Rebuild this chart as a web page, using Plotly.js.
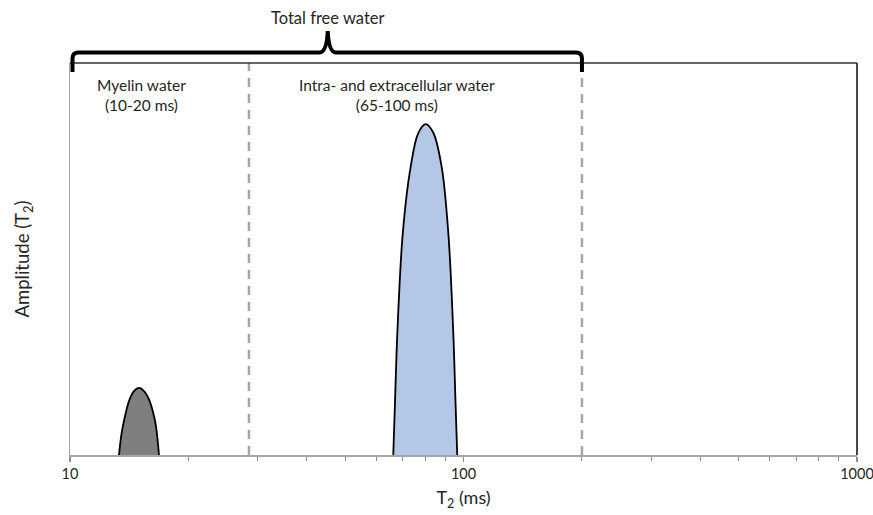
<!DOCTYPE html>
<html>
<head>
<meta charset="utf-8">
<script src="https://cdn.plot.ly/plotly-3.0.1.min.js"></script>
<style>html,body{margin:0;padding:0;background:#fff;}#chart{width:873px;height:515px;}</style>
</head>
<body>
<div id="chart"></div>
<script>
// Myelin water peak (T2 in ms, relative amplitude)
const myelinT2  = [13.32, 13.50, 13.72, 14.15, 14.54, 14.97, 15.42, 15.90, 16.44, 16.65, 16.83];
const myelinAmp = [0.000, 0.050, 0.088, 0.140, 0.163, 0.171, 0.163, 0.140, 0.088, 0.050, 0.000];
// Intra- and extracellular water peak
const ieT2  = [66.3, 67.0, 67.9, 70.1, 73.4, 76.8, 80.2, 83.8, 88.0, 91.5, 94.2, 95.4, 96.4];
const ieAmp = [0.000, 0.140, 0.311, 0.566, 0.735, 0.822, 0.844, 0.822, 0.735, 0.566, 0.311, 0.140, 0.000];
// Compartment boundaries (dashed lines), ms
const boundaries = [28.5, 200];
// Axis ticks
const majorTicks = [10, 100, 1000];
const majorLabels = ['10', '100', '1000'];
const minorTicks = [20,30,40,50,60,70,80,90,200,300,400,500,600,700,800,900];
const xRange = [10, 1000];

const font = 'Lato, "Open Sans", sans-serif';
const txt = '#262626';
const L = 70, R = 857, T = 63, B = 455, W = 873, H = 515;
const X = px => (px - L) / (R - L);
const Y = py => (B - py) / (B - T);
const Xv = v => (Math.log10(v) - Math.log10(xRange[0])) / (Math.log10(xRange[1]) - Math.log10(xRange[0]));

const traces = [];
boundaries.forEach(b => traces.push({
  x: [b, b], y: [0, 1], mode: 'lines', hoverinfo: 'skip',
  line: {color: '#a6a6a6', width: 2.5, dash: '9px,7px'}
}));
traces.push({
  x: myelinT2, y: myelinAmp, mode: 'lines', fill: 'tozeroy',
  fillcolor: '#7f7f7f', line: {color: '#000', width: 1.8, shape: 'spline', smoothing: 1}
});
traces.push({
  x: ieT2, y: ieAmp, mode: 'lines', fill: 'tozeroy',
  fillcolor: '#b4c7e7', line: {color: '#000', width: 1.8, shape: 'spline', smoothing: 1}
});

// brace from T2=10 to right boundary
const bx0 = L + Xv(xRange[0]) * (R - L) + 2.5;
const bx1 = L + Xv(boundaries[1]) * (R - L);
const bm = (bx0 + bx1) / 2 + 0.5;
const by = 52.5, bb = 72, btip = 31;
const P = (px, py) => X(px).toFixed(5) + ',' + Y(py).toFixed(5);
const bracePath =
  'M' + P(bx0, bb) + ' L' + P(bx0, by + 6) + ' Q' + P(bx0, by) + ' ' + P(bx0 + 6, by) +
  ' L' + P(bm - 8, by) + ' Q' + P(bm - 1, by - 0.5) + ' ' + P(bm, btip) +
  ' Q' + P(bm + 1, by - 0.5) + ' ' + P(bm + 8, by) +
  ' L' + P(bx1 - 6, by) + ' Q' + P(bx1, by) + ' ' + P(bx1, by + 6) + ' L' + P(bx1, bb);

const layout = {
  width: W, height: H,
  margin: {l: L, r: W - R, t: T, b: H - B},
  paper_bgcolor: '#fff', plot_bgcolor: '#fff',
  showlegend: false,
  font: {family: font, color: txt, size: 14},
  xaxis: {
    type: 'log', range: [Math.log10(xRange[0]), Math.log10(xRange[1])],
    tickvals: majorTicks, ticktext: majorLabels, ticklabeloverflow: 'allow',
    ticks: 'outside', ticklen: 5, tickwidth: 1.2, tickcolor: '#8c8c8c',
    minor: {tickvals: minorTicks, ticks: 'outside', ticklen: 4, tickwidth: 1, tickcolor: '#8c8c8c', showgrid: false},
    showgrid: false, zeroline: false,
    showline: true, linecolor: '#a6a6a6', linewidth: 2,
    tickfont: {family: font, size: 14.5, color: txt},
    title: {text: 'T<sub>2</sub> (ms)', font: {family: font, size: 18, color: txt}, standoff: 10}
  },
  yaxis: {
    range: [0, 1], showticklabels: false, ticks: '', showgrid: false, zeroline: false,
    showline: true, linecolor: '#a6a6a6', linewidth: 1.5,
    title: {text: 'Amplitude (T<sub>2</sub>)', font: {family: font, size: 18.5, color: txt}, standoff: 34}
  },
  shapes: [
    {type: 'line', xref: 'paper', yref: 'paper', x0: 0, x1: 1, y0: 1, y1: 1, line: {color: '#333', width: 1.5}},
    {type: 'line', xref: 'paper', yref: 'paper', x0: 1, x1: 1, y0: 0, y1: 1, line: {color: '#333', width: 1.8}},
    {type: 'path', xref: 'paper', yref: 'paper', path: bracePath, line: {color: '#000', width: 4}, fillcolor: 'rgba(0,0,0,0)'}
  ],
  annotations: [
    {xref: 'paper', yref: 'paper', x: X(327), y: Y(18), text: 'Total free water', showarrow: false,
     font: {family: font, size: 16.5, color: txt}, xanchor: 'center', yanchor: 'middle'},
    {xref: 'paper', yref: 'paper', x: X(141), y: Y(95), text: 'Myelin water<br>(10-20 ms)', showarrow: false,
     font: {family: font, size: 15.5, color: txt}, xanchor: 'center', yanchor: 'middle'},
    {xref: 'paper', yref: 'paper', x: X(397), y: Y(95), text: 'Intra- and extracellular water<br>(65-100 ms)', showarrow: false,
     font: {family: font, size: 15.5, color: txt}, xanchor: 'center', yanchor: 'middle'}
  ]
};

Plotly.newPlot('chart', traces, layout, {displayModeBar: false, staticPlot: true});
</script>
</body>
</html>
